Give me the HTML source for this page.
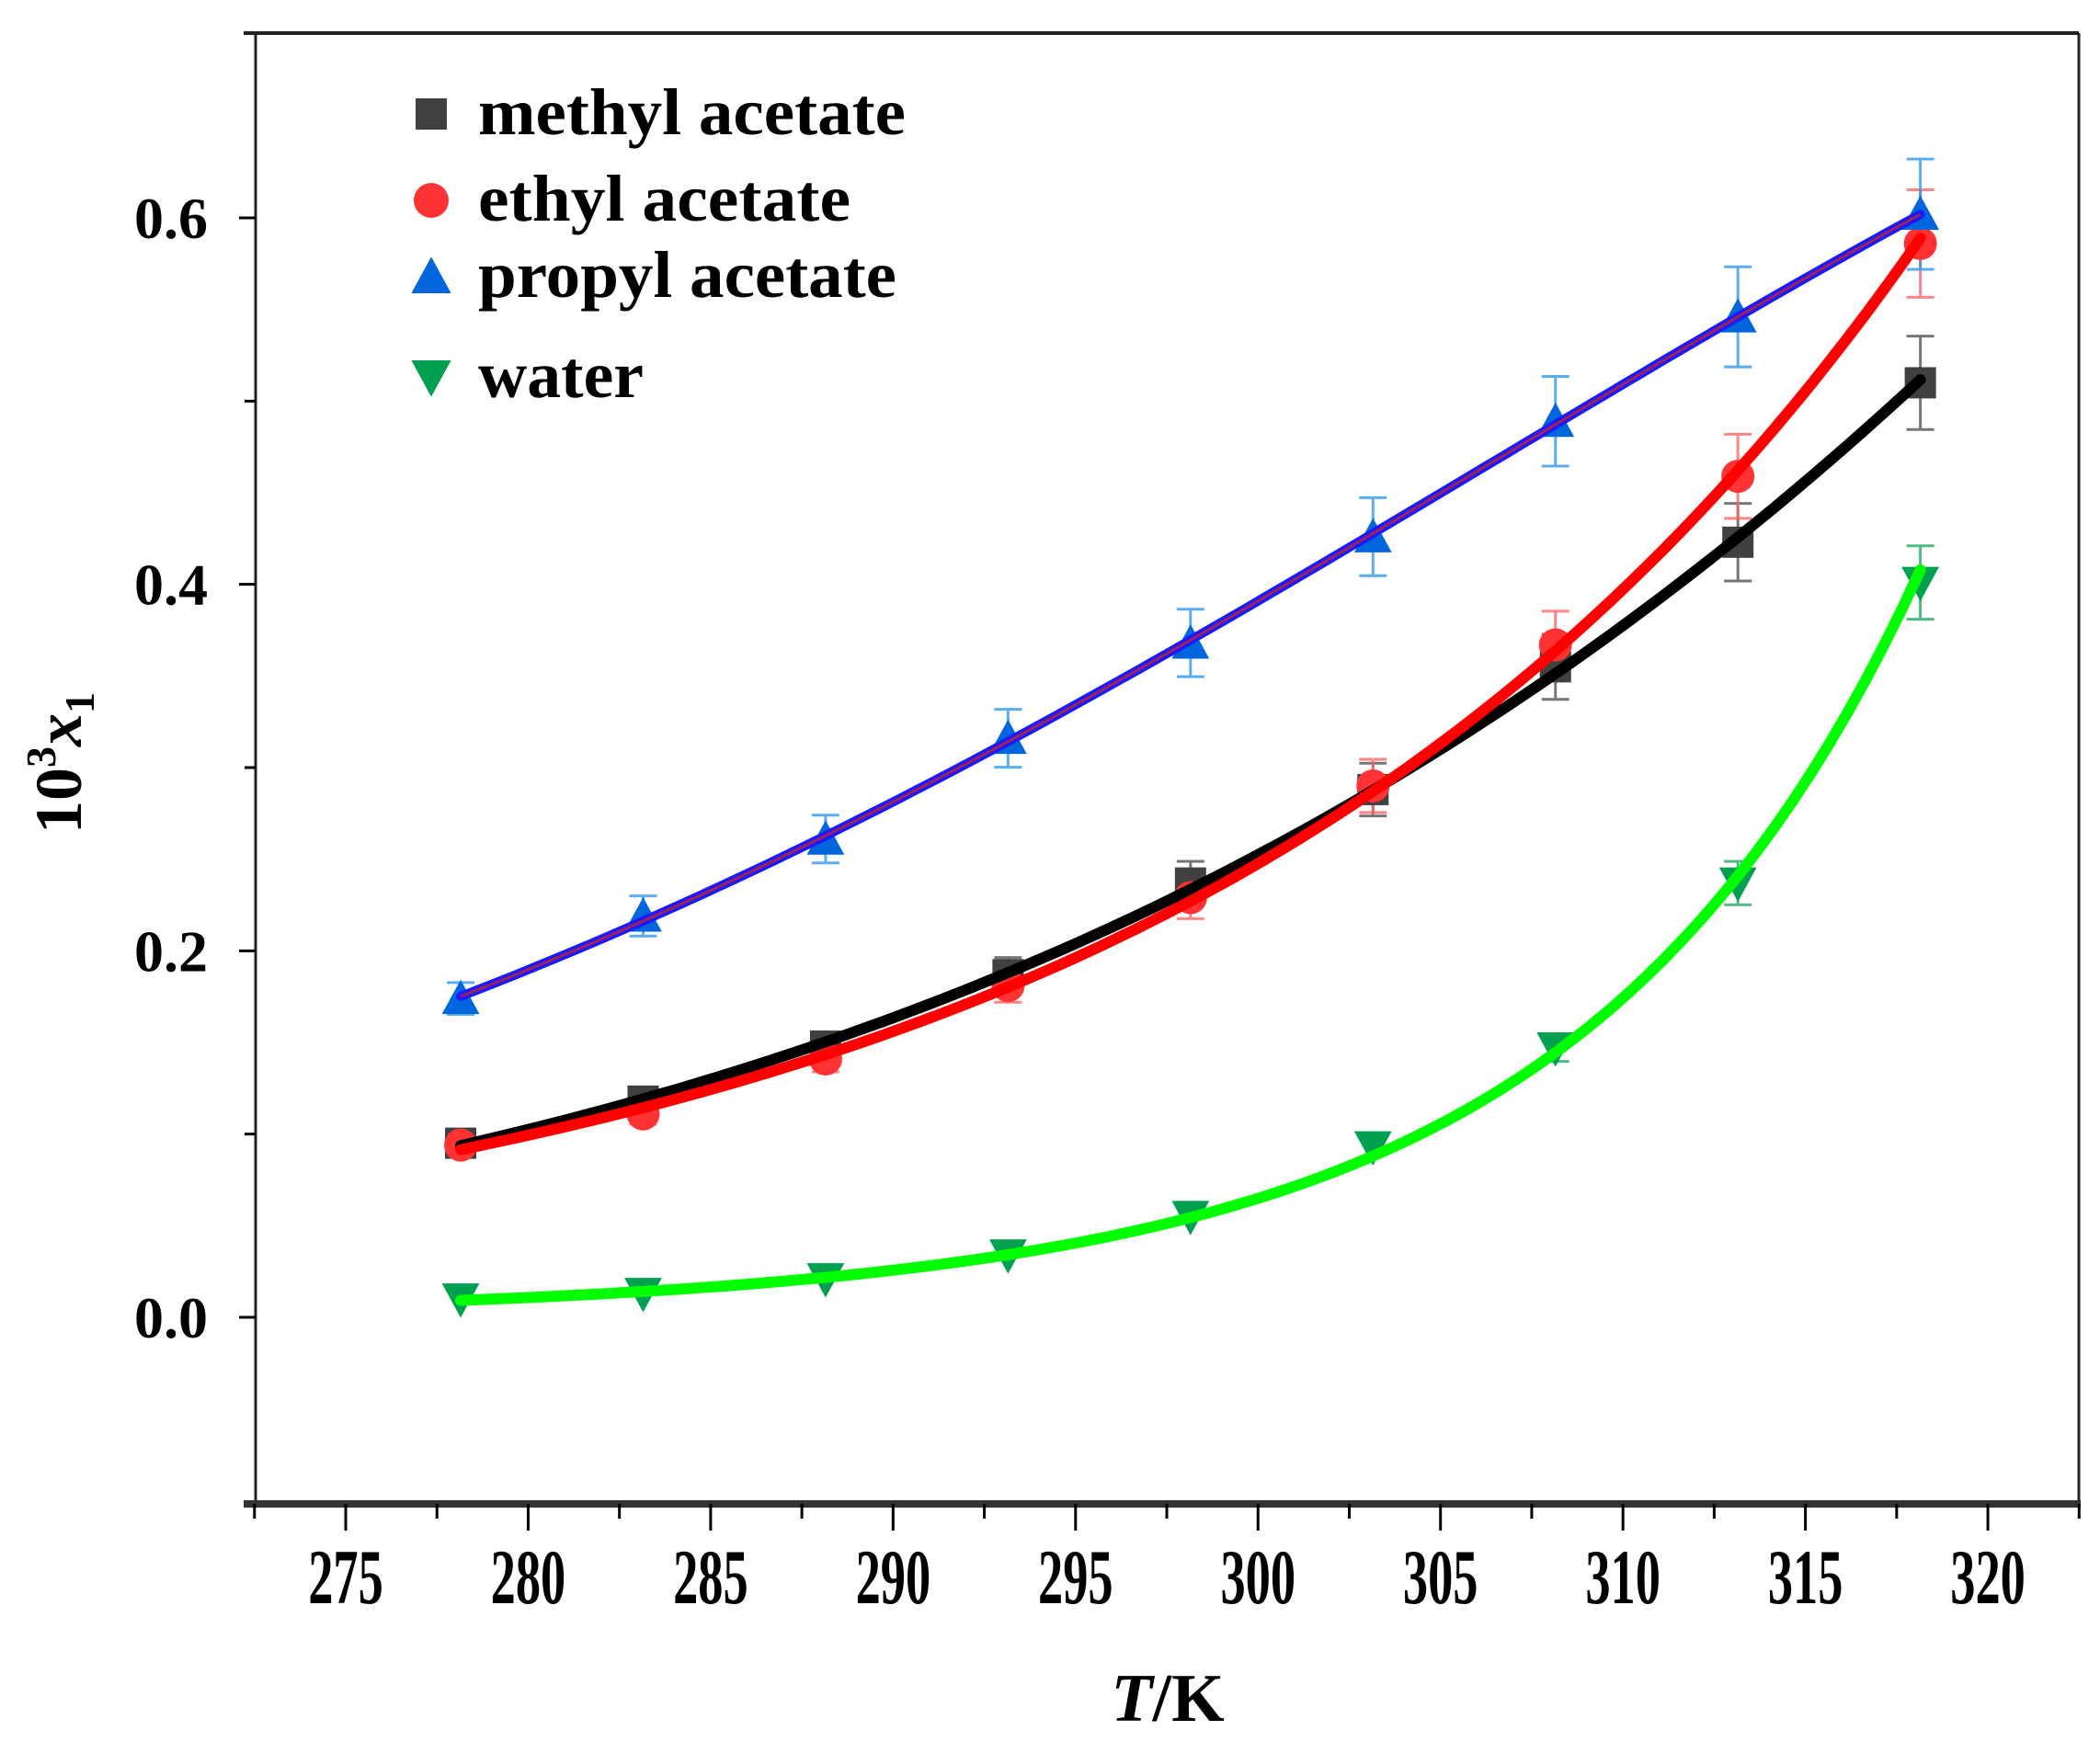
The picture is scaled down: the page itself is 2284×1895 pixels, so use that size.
<!DOCTYPE html>
<html><head><meta charset="utf-8"><style>
html,body{margin:0;padding:0;background:#fff;}
svg{display:block;}
text{font-family:"Liberation Serif",serif;font-weight:bold;fill:#000;}
</style></head><body>
<svg id="s" width="2284" height="1895" xmlns="http://www.w3.org/2000/svg"></svg>
<script>
const X=t=>376+(t-275)*39.69, Y=v=>1433-v*1993.3;
const T=[278.15,283.15,288.15,293.15,298.15,303.15,308.15,313.15,318.15];
const S=[
 {n:'methyl acetate',c:'#404040',e:'#555',line:'#000',m:'sq',d:[0.095,0.118,0.148,0.187,0.237,0.288,0.355,0.423,0.510]},
 {n:'ethyl acetate',c:'#ff3333',e:'#ff6666',line:'#ff0000',m:'ci',d:[0.094,0.111,0.141,0.181,0.229,0.290,0.367,0.459,0.586]},
 {n:'propyl acetate',c:'#0066dd',e:'#3399ee',line:'#1a1aff',m:'up',d:[0.174,0.219,0.261,0.316,0.368,0.426,0.489,0.546,0.602]},
 {n:'water',c:'#00a050',e:'#22aa66',line:'#00ff00',m:'dn',d:[0.010,0.013,0.021,0.034,0.055,0.093,0.147,0.237,0.401]}];
let h='';
h+=`<line x1="265" y1="36" x2="2261" y2="36" stroke="#222" stroke-width="4"/>`;
h+=`<line x1="278" y1="36" x2="278" y2="1636" stroke="#222" stroke-width="3"/>`;
h+=`<line x1="2261" y1="36" x2="2261" y2="1636" stroke="#222" stroke-width="3"/>`;
h+=`<line x1="265" y1="1636" x2="2263" y2="1636" stroke="#333" stroke-width="8"/>`;
for(let t=272.5;t<=322.6;t+=2.5){const maj=Math.abs(t%5)<0.01;h+=`<line x1="${X(t)}" y1="1636" x2="${X(t)}" y2="${maj?1665:1652}" stroke="#000" stroke-width="3"/>`;
 if(maj)h+=`<text transform="translate(${X(t)},1744) scale(0.8,1.25)" font-size="68" text-anchor="middle">${t}</text>`;}
for(let v=0;v<=0.61;v+=0.1){const maj=Math.round(v*10)%2==0;h+=`<line x1="${maj?260:266}" y1="${Y(v)}" x2="278" y2="${Y(v)}" stroke="#000" stroke-width="3"/>`;
 if(maj)h+=`<text x="226" y="${Y(v)+22}" font-size="64" text-anchor="end">${v.toFixed(1)}</text>`;}
h+=`<text x="1270" y="1872" font-size="74" text-anchor="middle"><tspan font-style="italic">T</tspan>/K</text>`;
h+=`<text transform="translate(88,830) rotate(-90)" font-size="72" text-anchor="middle">10<tspan font-size="46" dy="-28">3</tspan><tspan font-style="italic" dy="28">x</tspan><tspan font-size="46" dy="14">1</tspan></text>`;
function mk(m,x,y,c,r){
 if(m=='sq')return `<rect x="${x-r}" y="${y-r}" width="${2*r}" height="${2*r}" fill="${c}"/>`;
 if(m=='ci')return `<circle cx="${x}" cy="${y}" r="${r+1}" fill="${c}"/>`;
 if(m=='up')return `<polygon points="${x},${y-r*1.2} ${x-r*1.2},${y+r} ${x+r*1.2},${y+r}" fill="${c}"/>`;
 return `<polygon points="${x},${y+r*1.2} ${x-r*1.2},${y-r} ${x+r*1.2},${y-r}" fill="${c}"/>`;}
function fit(ys){
 const us=T.map(t=>(t-298.15)/20),l=ys.map(Math.log);let A=[[0,0,0],[0,0,0],[0,0,0]],b=[0,0,0];
 us.forEach((u,i)=>{const f=[1,u,u*u];for(let j=0;j<3;j++){b[j]+=f[j]*l[i];for(let k=0;k<3;k++)A[j][k]+=f[j]*f[k];}});
 for(let i=0;i<3;i++){for(let j=i+1;j<3;j++){const r=A[j][i]/A[i][i];for(let k=0;k<3;k++)A[j][k]-=r*A[i][k];b[j]-=r*b[i];}}
 const c=[0,0,0];for(let i=2;i>=0;i--){let s=b[i];for(let k=i+1;k<3;k++)s-=A[i][k]*c[k];c[i]=s/A[i][i];}
 return t=>{const u=(t-298.15)/20;return Math.exp(c[0]+c[1]*u+c[2]*u*u);};}
S.forEach(s=>{s.d.forEach((v,i)=>{const x=X(T[i]),e=v*0.05,y1=Y(v+e),y2=Y(v-e);if(s.m=='dn'&&v<0.1)return;
 h+=`<g stroke="${s.e}" stroke-width="3" opacity="0.8"><line x1="${x}" y1="${y1}" x2="${x}" y2="${y2}"/><line x1="${x-15}" y1="${y1}" x2="${x+15}" y2="${y1}"/><line x1="${x-15}" y1="${y2}" x2="${x+15}" y2="${y2}"/></g>`;});});
S.forEach(s=>{s.d.forEach((v,i)=>{h+=mk(s.m,X(T[i]),Y(v),s.c,17);});});
S.forEach(s=>{const f=fit(s.d);let d='';for(let t=278.15;t<=318.16;t+=0.5)d+=(d?' L':'M')+X(t).toFixed(1)+','+Y(f(t)).toFixed(1);
 h+=`<path d="${d}" fill="none" stroke="${s.line}" stroke-width="${s.m=='up'?10:12}" stroke-linecap="round" stroke-linejoin="round"/>`;
 if(s.m=='up')h+=`<path d="${d}" fill="none" stroke="#a0205a" stroke-width="3"/>`;});
const ly=[146,240,323,432];
S.forEach((s,i)=>{h+=mk(s.m,469,ly[i]-22,s.c,s.m=='sq'?17:18);h+=`<text x="520" y="${ly[i]}" font-size="72" textLength="${[465,405,455,180][i]}" lengthAdjust="spacingAndGlyphs">${s.n}</text>`;});
document.getElementById('s').innerHTML=h;
</script>
</body></html>
